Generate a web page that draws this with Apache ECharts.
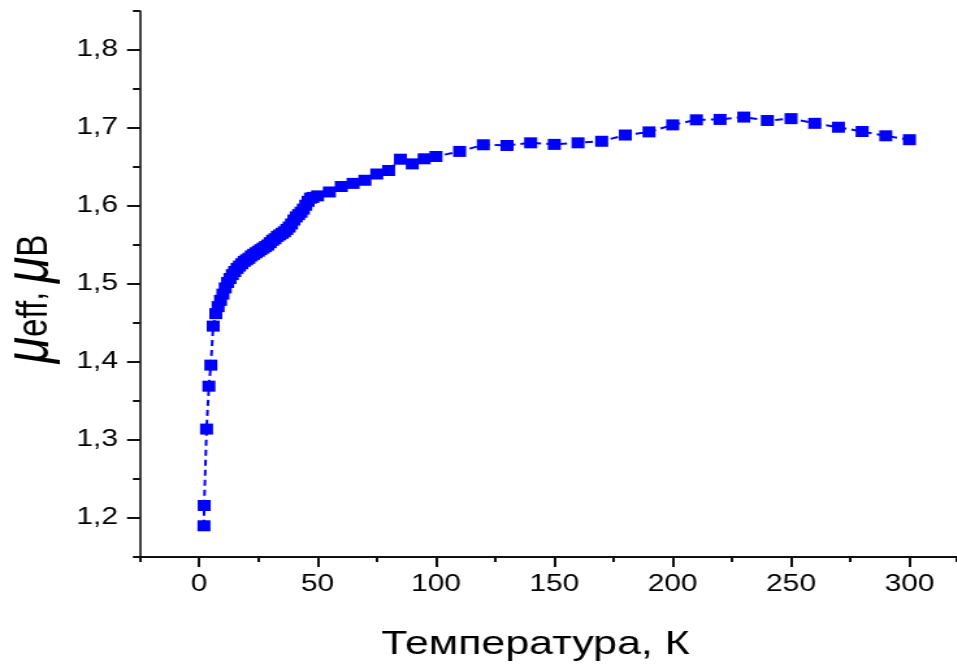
<!DOCTYPE html>
<html>
<head>
<meta charset="utf-8">
<script src="https://cdn.jsdelivr.net/npm/echarts@6/dist/echarts.min.js"></script>
<style>
html,body{margin:0;padding:0;background:#fff;}
#wrap{position:absolute;left:0;top:0;width:957px;height:670px;overflow:hidden;background:#fff;}
#chart{width:736px;height:670px;transform:scaleX(1.3);transform-origin:0 0;}
</style>
</head>
<body>
<div id="wrap"><div id="chart"></div></div>
<script>
var temperature = [2.0,2.1,3.1,4.1,4.9,5.9,
  7,8,9,10,11,12,13,14,15,16,17,18,19,20,21,22,23,24,25,26,27,28,29,30,31,32,33,34,35,36,37,38,39,40,41,42,43,44,45,46,47,48,
  50,55,60,65,70,75,80,85,90,95,100,
  110,120,130,140,150,160,170,180,190,200,210,220,230,240,250,260,270,280,290,300];
var muEff = [1.19,1.216,1.314,1.369,1.396,1.446,
  1.462,1.471,1.479,1.487,1.495,1.502,1.507,1.512,1.516,1.520,1.523,1.526,1.529,1.531,1.533,1.536,1.538,1.540,1.542,1.544,1.546,1.548,1.550,1.553,1.556,1.558,1.561,1.563,1.565,1.567,1.570,1.573,1.577,1.582,1.586,1.589,1.592,1.596,1.601,1.606,1.610,1.611,
  1.613,1.618,1.625,1.629,1.633,1.641,1.6455,1.660,1.654,1.6605,1.6635,
  1.670,1.6785,1.6776,1.681,1.679,1.681,1.683,1.691,1.695,1.704,1.7105,1.711,1.714,1.7096,1.712,1.706,1.701,1.6955,1.690,1.685];
var xTicks = [0,50,100,150,200,250,300];
var yTicks = [1.2,1.3,1.4,1.5,1.6,1.7,1.8];
var xTitle = 'Температура, К';

var FONT = "'Liberation Sans', Arial, sans-serif";
var points = temperature.map(function(t,i){return [t, muEff[i]];});
var chart = echarts.init(document.getElementById('chart'), null, {renderer:'canvas'});
var axisLineStyle = {color:'#111', width:2};
chart.setOption({
  animation:false,
  backgroundColor:'#fff',
  grid:{left:107.7, right:0, top:11, bottom:113, containLabel:false, outerBoundsMode:'none'},
  xAxis:[{
    type:'value', min:-25, max:320, position:'bottom',
    name:xTitle, nameLocation:'middle', nameGap:71,
    nameTextStyle:{fontFamily:FONT, fontSize:33, color:'#000', padding:[0,20,0,0]},
    axisLine:{show:true, onZero:false, lineStyle:axisLineStyle},
    axisTick:{show:true, inside:false, length:10, lineStyle:{color:'#111', width:2}, customValues:xTicks},
    axisLabel:{show:true, margin:16, fontFamily:FONT, fontSize:23, color:'#000', customValues:xTicks,
      formatter:function(v){return String(v);}},
    splitLine:{show:false}
  },{
    type:'value', min:-25, max:320, interval:50, position:'bottom',
    axisLine:{show:false, onZero:false},
    axisTick:{show:true, inside:false, length:5, lineStyle:{color:'#111', width:2}},
    axisLabel:{show:false},
    splitLine:{show:false}
  }],
  yAxis:[{
    type:'value', min:1.15, max:1.85, position:'left',
    name:'{mu|μ}{sub|eff}{c|, }{mu|μ}{sub|B}', nameLocation:'middle', nameGap:60, nameRotate:90,
    nameTextStyle:{fontFamily:FONT, color:'#000', padding:[0,30,0,0],
      rich:{
        mu:{fontFamily:FONT, fontSize:48, fontStyle:'italic', color:'#000'},
        sub:{fontFamily:FONT, fontSize:33, color:'#000', padding:[0,0,-7,0]},
        c:{fontFamily:FONT, fontSize:32, color:'#000'}
      }},
    axisLine:{show:true, onZero:false, lineStyle:{color:'#111', width:1.6}},
    axisTick:{show:true, inside:false, length:10, lineStyle:{color:'#111', width:2}, customValues:yTicks},
    axisLabel:{show:true, margin:17, fontFamily:FONT, fontSize:23, color:'#000', customValues:yTicks,
      formatter:function(v){return v.toFixed(1).replace('.', ',');}},
    splitLine:{show:false}
  },{
    type:'value', min:1.15, max:1.85, interval:0.1, position:'left',
    axisLine:{show:false, onZero:false},
    axisTick:{show:true, inside:false, length:5.5, lineStyle:{color:'#111', width:2}},
    axisLabel:{show:false},
    splitLine:{show:false}
  }],
  series:[{
    type:'line', xAxisIndex:0, yAxisIndex:0,
    data:points,
    symbol:'rect', symbolSize:[10,11],
    itemStyle:{color:'#0000ff'},
    lineStyle:{color:'#0000ff', width:2, type:[6,4]},
    showSymbol:true, silent:true, clip:false
  }]
});
</script>
</body>
</html>
